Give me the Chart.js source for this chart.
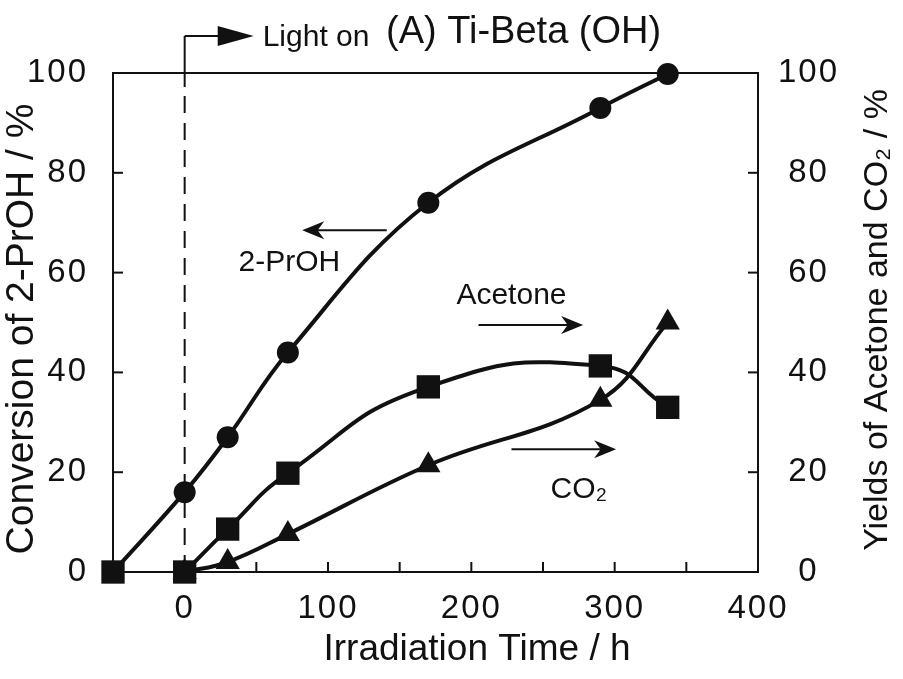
<!DOCTYPE html>
<html>
<head>
<meta charset="utf-8">
<script src="https://cdn.jsdelivr.net/npm/chart.js@4.4.1/dist/chart.umd.min.js"></script>
<style>
  html, body { margin: 0; padding: 0; background: #fff; }
</style>
</head>
<body>
<canvas id="tiBeta" width="903" height="679"></canvas>
<script>
// irradiation times (h) and measured values (%)
const sampleTimes = [0, 30, 72, 170, 290, 337];
const prohConversion = [16, 27, 44, 74, 93, 99.8];
const acetoneYield = [0, 8.6, 19.8, 37.1, 41.3, 33];
const co2Yield = [0, 2, 7.6, 21.4, 34.5, 50];
// dark adsorption step before the lamp is switched on
const darkTime = [-50];
const darkConversion = [0];

const xLabelTicks = [0, 100, 200, 300, 400];
const yTicks = [0, 20, 40, 60, 80, 100];

const ink = '#111';
const FONT = "'Liberation Sans', Arial, sans-serif";

const toPoints = (xs, ys) => xs.map((x, i) => ({ x: x, y: ys[i] }));

const prohPoints = toPoints(darkTime, darkConversion).concat(toPoints(sampleTimes, prohConversion));
const prohStyles = darkTime.map(() => 'rect').concat(sampleTimes.map(() => 'circle'));
const prohRadii = darkTime.map(() => 16.5).concat(sampleTimes.map(() => 11));

function arrow(ctx, x1, y1, x2, y2, len, half, notch) {
  const a = Math.atan2(y2 - y1, x2 - x1);
  ctx.beginPath();
  ctx.moveTo(x1, y1);
  ctx.lineTo(x2 - Math.cos(a) * len * 0.6, y2 - Math.sin(a) * len * 0.6);
  ctx.stroke();
  ctx.save();
  ctx.translate(x2, y2);
  ctx.rotate(a);
  ctx.beginPath();
  ctx.moveTo(0, 0);
  ctx.lineTo(-len, -half);
  ctx.lineTo(-len * notch, 0);
  ctx.lineTo(-len, half);
  ctx.closePath();
  ctx.fill();
  ctx.restore();
}

function seg(ctx, x1, y1, x2, y2) {
  ctx.beginPath();
  ctx.moveTo(x1, y1);
  ctx.lineTo(x2, y2);
  ctx.stroke();
}

const overlay = {
  id: 'overlay',
  afterDatasetsDraw(chart) {
    // tick labels are drawn after the datasets (ticks.z = 1), spaced out
    chart.ctx.letterSpacing = '2px';
  },
  afterDraw(chart) {
    const ctx = chart.ctx;
    ctx.letterSpacing = '0px';
    const { left, right, top, bottom } = chart.chartArea;
    const xs = chart.scales.x, ys = chart.scales.y, y2s = chart.scales.y2;
    const px = v => xs.getPixelForValue(v);
    const py = v => ys.getPixelForValue(v);

    ctx.save();
    ctx.strokeStyle = ink;
    ctx.fillStyle = ink;
    ctx.lineWidth = 2;

    // top edge of the frame
    seg(ctx, left - 1, top, right + 1, top);

    // inward tick marks
    xs.ticks.forEach(t => {
      const p = xs.getPixelForValue(t.value);
      if (p > left + 2 && p < right - 2) seg(ctx, p, bottom, p, bottom - 10);
    });
    ys.ticks.forEach(t => {
      const p = ys.getPixelForValue(t.value);
      if (p > top + 2 && p < bottom - 2) seg(ctx, left, p, left + 10, p);
    });
    y2s.ticks.forEach(t => {
      const p = y2s.getPixelForValue(t.value);
      if (p > top + 2 && p < bottom - 2) seg(ctx, right, p, right - 10, p);
    });

    // light on marker
    const x0 = px(0);
    ctx.setLineDash([17, 10]);
    seg(ctx, x0, bottom, x0, top + 14);
    ctx.setLineDash([]);
    seg(ctx, x0, top + 14, x0, top - 37);
    arrow(ctx, x0, top - 37, x0 + 69, top - 37, 36, 10, 1);

    ctx.textBaseline = 'middle';
    ctx.textAlign = 'left';
    ctx.font = '30px ' + FONT;
    ctx.fillText('Light on', x0 + 78, top - 35);
    ctx.font = '38px ' + FONT;
    ctx.fillText('(A) Ti-Beta (OH)', 386, top - 40);

    // series labels
    ctx.font = '30px ' + FONT;
    ctx.textAlign = 'center';
    ctx.fillText('2-PrOH', px(73), py(62));
    ctx.fillText('Acetone', px(228), py(55.3));
    ctx.fillText('CO₂', px(275), py(16.4));
    arrow(ctx, px(141), py(68.5), px(82), py(68.5), 22, 9, 0.7);
    arrow(ctx, px(205), py(49.5), px(278), py(49.5), 22, 9, 0.7);
    arrow(ctx, px(228), py(24.6), px(301), py(24.6), 22, 9, 0.7);

    // axis titles
    ctx.font = '37px ' + FONT;
    ctx.fillText('Irradiation Time / h', 477, 650);

    ctx.save();
    ctx.translate(22, 329);
    ctx.rotate(-Math.PI / 2);
    ctx.font = '39px ' + FONT;
    ctx.fillText('Conversion of 2-PrOH / %', 0, 0);
    ctx.restore();

    ctx.save();
    ctx.translate(878, 320);
    ctx.rotate(-Math.PI / 2);
    ctx.font = '34px ' + FONT;
    ctx.fillText('Yields of Acetone and CO₂ / %', 0, 0);
    ctx.restore();

    ctx.restore();
  }
};

const lineStyle = {
  borderColor: ink,
  borderWidth: 4,
  backgroundColor: ink,
  pointBackgroundColor: ink,
  pointBorderWidth: 0,
  tension: 0.4,
  clip: false,
  fill: false
};

const tickFont = { family: FONT, size: 33 };

new Chart(document.getElementById('tiBeta'), {
  type: 'line',
  data: {
    datasets: [
      Object.assign({}, lineStyle, {
        label: '2-PrOH',
        data: prohPoints,
        yAxisID: 'y',
        pointStyle: prohStyles,
        pointRadius: prohRadii
      }),
      Object.assign({}, lineStyle, {
        label: 'Acetone',
        data: toPoints(sampleTimes, acetoneYield),
        yAxisID: 'y2',
        pointStyle: 'rect',
        pointRadius: 16.5,
        tension: 0.5
      }),
      Object.assign({}, lineStyle, {
        label: 'CO2',
        data: toPoints(sampleTimes, co2Yield),
        yAxisID: 'y2',
        pointStyle: 'triangle',
        pointRadius: 14
      })
    ]
  },
  options: {
    responsive: false,
    animation: false,
    events: [],
    layout: { padding: { top: 73, left: 0, right: 0, bottom: 0 } },
    plugins: {
      legend: { display: false },
      tooltip: { enabled: false }
    },
    scales: {
      x: {
        type: 'linear',
        min: -50,
        max: 400,
        grid: { display: false },
        border: { display: true, color: ink, width: 2 },
        ticks: {
          stepSize: 50,
          z: 1,
          padding: 9,
          color: ink,
          maxRotation: 0,
          autoSkip: false,
          font: tickFont,
          callback: v => xLabelTicks.includes(v) ? String(v) : ''
        },
        afterFit: s => { s.height = 107; }
      },
      y: {
        position: 'left',
        min: 0,
        max: 100,
        grid: { display: false },
        border: { display: true, color: ink, width: 2 },
        afterBuildTicks: s => { s.ticks = yTicks.map(v => ({ value: v })); },
        ticks: {
          z: 1,
          padding: 17,
          color: ink,
          font: tickFont
        },
        afterFit: s => { s.width = 113; }
      },
      y2: {
        position: 'right',
        min: 0,
        max: 100,
        grid: { display: false },
        border: { display: true, color: ink, width: 2 },
        afterBuildTicks: s => { s.ticks = yTicks.map(v => ({ value: v })); },
        ticks: {
          z: 1,
          padding: 15,
          crossAlign: 'center',
          color: ink,
          font: tickFont
        },
        afterFit: s => { s.width = 145; }
      }
    }
  },
  plugins: [overlay]
});
</script>
</body>
</html>
